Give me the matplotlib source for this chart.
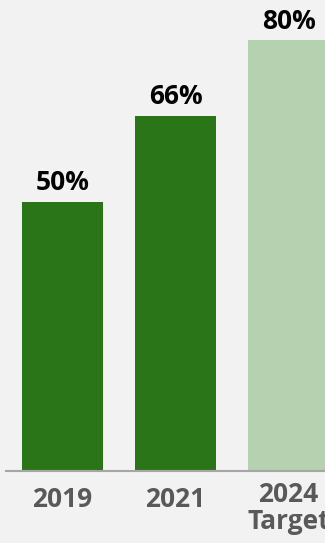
import matplotlib
matplotlib.use("Agg")
import matplotlib.pyplot as plt
from matplotlib.transforms import blended_transform_factory

categories = ["2019", "2021", "2024\nTarget"]
values = [50, 66, 80]
colors = ["#2b7519", "#2b7519", "#b5d1b0"]

W, H, DPI = 325, 543, 100
fig = plt.figure(figsize=(W / DPI, H / DPI), dpi=DPI, facecolor="#f2f2f2")
ax = fig.add_axes([6 / W, 72 / H, 1 - 6 / W, 471 / H])
ax.set_facecolor("#f2f2f2")

x = list(range(len(values)))
ax.bar(x, values, width=0.717, color=colors, zorder=2)

ax.set_xlim(-0.5, 2.323)
ax.set_ylim(0, 87.5)
for s in ["top", "right", "left"]:
    ax.spines[s].set_visible(False)
ax.spines["bottom"].set_color("#a6a6a6")
ax.spines["bottom"].set_linewidth(1.5)
ax.set_yticks([])
ax.set_xticks([])

font = "Open Sans"
for xi, v in zip(x, values):
    ax.annotate(f"{v}%", (xi, v), xytext=(0, 4), textcoords="offset points",
                ha="center", va="bottom", fontsize=19, fontweight="bold",
                family=font, color="black")

tr = blended_transform_factory(ax.transData, ax.transAxes)
for xi, lab in zip(x, categories):
    y_off = -11 if "\n" not in lab else -7
    ax.annotate(lab, (xi, 0), xycoords=tr, xytext=(0, y_off),
                textcoords="offset points", ha="center", va="top",
                fontsize=19, fontweight="bold", family=font,
                color="#595959", linespacing=1.02)

fig.savefig("out.png", dpi=DPI, facecolor=fig.get_facecolor())
